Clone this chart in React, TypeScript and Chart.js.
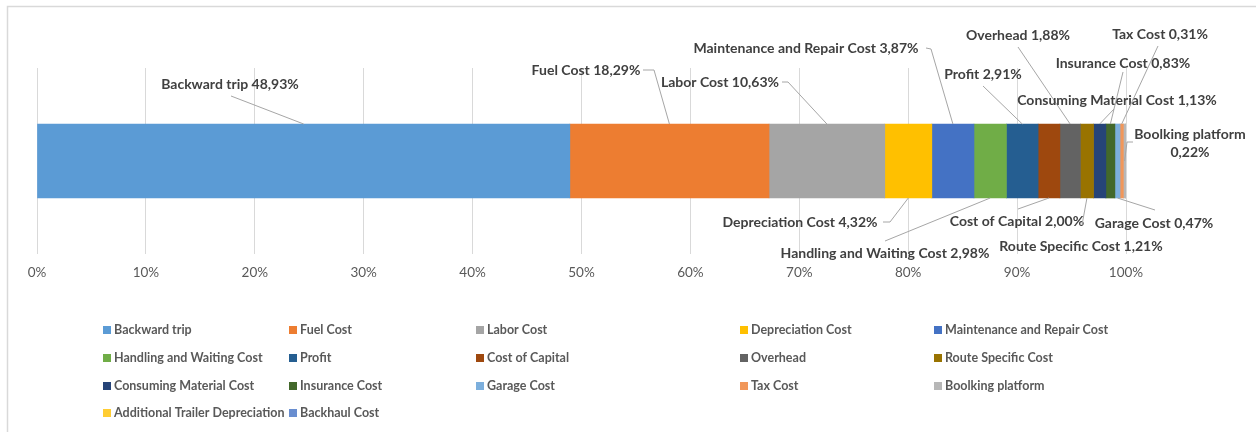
import React, { useEffect, useRef } from "react";
import { Chart, registerables } from "chart.js";

Chart.register(...registerables);

// Cost components of a single trip, as shares of the total (percent).
const seriesNames = [
  "Backward trip",
  "Fuel Cost",
  "Labor Cost",
  "Depreciation Cost",
  "Maintenance and Repair Cost",
  "Handling and Waiting Cost",
  "Profit",
  "Cost of Capital",
  "Overhead",
  "Route Specific Cost",
  "Consuming Material Cost",
  "Insurance Cost",
  "Garage Cost",
  "Tax Cost",
  "Boolking platform",
  "Additional Trailer Depreciation",
  "Backhaul Cost",
];

const seriesValues = [
  48.93, 18.29, 10.63, 4.32, 3.87, 2.98, 2.91, 2.0, 1.88, 1.21, 1.13, 0.83,
  0.47, 0.31, 0.22, 0, 0,
];

const seriesColors = [
  "#5B9BD5",
  "#ED7D31",
  "#A5A5A5",
  "#FFC000",
  "#4472C4",
  "#70AD47",
  "#255E91",
  "#9E480E",
  "#636363",
  "#997300",
  "#264478",
  "#43682B",
  "#7CAFDD",
  "#F1975A",
  "#B7B7B7",
  "#FFCD33",
  "#698ED0",
];

const categories = ["Trip"];
const xTickStep = 10;
const xMax = 100;

const FONT = "Lato, 'Open Sans', 'DejaVu Sans', sans-serif";
const LABEL_COLOR = "#404040";
const LEADER_COLOR = "#A6A6A6";
const GRID_COLOR = "#D9D9D9";

type Pt = [number, number];
interface LabelPlacement {
  x: number;
  y: number;
  leader: Pt[];
  side: "top" | "bottom" | "mid";
  split?: boolean;
}

// Where each data label sits and the elbow of its leader line; the leader ends on the bar segment.
const labelPlacement: (LabelPlacement | null)[] = [
  { x: 230, y: 84, leader: [[231, 96]], side: "top" },
  { x: 586, y: 70, leader: [[643, 70], [654, 70]], side: "top" },
  { x: 720, y: 82, leader: [[782, 82], [788, 82]], side: "top" },
  { x: 800, y: 222, leader: [[883, 222], [890, 222]], side: "bottom" },
  { x: 806, y: 48, leader: [[926, 48], [931, 49]], side: "top" },
  { x: 885, y: 253, leader: [[885, 241]], side: "bottom" },
  { x: 983, y: 74, leader: [[983, 86]], side: "top" },
  { x: 1017, y: 221, leader: [[1018, 209]], side: "bottom" },
  { x: 1018, y: 35, leader: [[1018, 47]], side: "top" },
  { x: 1081, y: 246, leader: [[1082, 225]], side: "bottom" },
  { x: 1117, y: 100, leader: [[1114, 109]], side: "top" },
  { x: 1123, y: 63, leader: [[1123, 72]], side: "top" },
  { x: 1154, y: 223, leader: [[1155, 210]], side: "bottom" },
  { x: 1160, y: 34, leader: [[1158, 46]], side: "top" },
  { x: 1190, y: 134, leader: [[1133, 142], [1127, 142]], side: "mid", split: true },
  null,
  null,
];

// Legend grid: five columns, four rows.
const legendColumns = [103, 289, 476, 740, 934];
const legendRows = [330, 358, 386, 413];

const fmtPct = (v: number) => v.toFixed(2).replace(".", ",") + "%";

const framePlugin = {
  id: "frame",
  beforeDraw(chart: any) {
    const { ctx, width, height } = chart;
    ctx.save();
    ctx.fillStyle = "#FFFFFF";
    ctx.fillRect(0, 0, width, height);
    ctx.strokeStyle = GRID_COLOR;
    ctx.lineWidth = 1.5;
    ctx.beginPath();
    ctx.moveTo(7.5, height);
    ctx.lineTo(7.5, 6.5);
    ctx.lineTo(width, 6.5);
    ctx.stroke();
    ctx.restore();
  },
};

const dataLabelPlugin = {
  id: "leaderLabels",
  afterDatasetsDraw(chart: any) {
    const { ctx } = chart;
    ctx.save();
    chart.data.datasets.forEach((ds: any, i: number) => {
      const place = labelPlacement[i];
      const value = ds.data[0];
      if (!place || !value) return;
      const el = chart.getDatasetMeta(i).data[0];
      const { x, base, y, height } = el.getProps(["x", "base", "y", "height"], true);
      const cx = (x + base) / 2;
      const ey = place.side === "top" ? y - height / 2 : place.side === "bottom" ? y + height / 2 : y;

      ctx.strokeStyle = LEADER_COLOR;
      ctx.lineWidth = 1;
      ctx.beginPath();
      place.leader.forEach((p, k) => (k === 0 ? ctx.moveTo(p[0], p[1]) : ctx.lineTo(p[0], p[1])));
      ctx.lineTo(cx, ey);
      ctx.stroke();

      ctx.fillStyle = LABEL_COLOR;
      ctx.font = `bold 14px ${FONT}`;
      ctx.textAlign = "center";
      ctx.textBaseline = "middle";
      if (place.split) {
        ctx.fillText(ds.label, place.x, place.y);
        ctx.fillText(fmtPct(value), place.x, place.y + 18);
      } else {
        ctx.fillText(`${ds.label} ${fmtPct(value)}`, place.x, place.y);
      }
    });
    ctx.restore();
  },
};

const legendPlugin = {
  id: "gridLegend",
  afterDraw(chart: any) {
    const { ctx } = chart;
    ctx.save();
    ctx.font = `bold 12.5px ${FONT}`;
    ctx.textAlign = "left";
    ctx.textBaseline = "middle";
    chart.data.datasets.forEach((ds: any, i: number) => {
      const col = i % legendColumns.length;
      const row = Math.floor(i / legendColumns.length);
      const lx = legendColumns[col];
      const ly = legendRows[row];
      ctx.fillStyle = ds.backgroundColor;
      ctx.fillRect(lx, ly - 4, 8, 8);
      ctx.fillStyle = "#595959";
      ctx.fillText(ds.label, lx + 11, ly);
    });
    ctx.restore();
  },
};

export default function App() {
  const canvasRef = useRef<HTMLCanvasElement | null>(null);

  useEffect(() => {
    if (!canvasRef.current) return;
    const chart = new Chart(canvasRef.current, {
      type: "bar",
      data: {
        labels: categories,
        datasets: seriesNames.map((name, i) => ({
          label: name,
          data: [seriesValues[i]],
          backgroundColor: seriesColors[i],
          borderWidth: 0,
          barThickness: 74,
        })),
      },
      options: {
        indexAxis: "y",
        responsive: false,
        maintainAspectRatio: false,
        animation: false,
        layout: { padding: { left: 37, right: 130, top: 68, bottom: 148 } },
        plugins: {
          legend: { display: false },
          tooltip: { enabled: false },
          title: { display: false },
        },
        scales: {
          x: {
            stacked: true,
            min: 0,
            max: xMax,
            afterFit: (scale: any) => {
              scale.height = 30;
            },
            grid: { color: GRID_COLOR, lineWidth: 1, drawTicks: false },
            border: { display: false },
            ticks: {
              stepSize: xTickStep,
              padding: 11,
              maxRotation: 0,
              autoSkip: false,
              color: "#595959",
              font: { family: FONT, size: 13.5 },
              callback: (v: any) => `${v}%`,
            },
          },
          y: {
            stacked: true,
            display: false,
          },
        },
      },
      plugins: [framePlugin, dataLabelPlugin, legendPlugin],
    });
    return () => chart.destroy();
  }, []);

  return (
    <div style={{ position: "fixed", left: 0, top: 0, width: 1256, height: 432, background: "#fff" }}>
      <canvas ref={canvasRef} width={1256} height={432} style={{ display: "block", width: 1256, height: 432 }} />
    </div>
  );
}
